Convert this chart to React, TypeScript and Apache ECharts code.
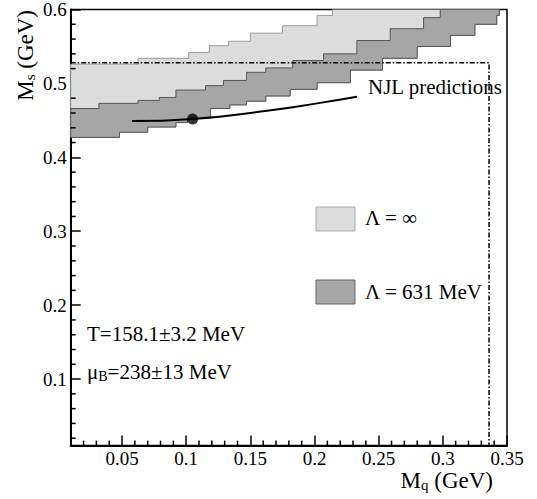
import React, { useEffect, useRef } from 'react';
import * as echarts from 'echarts';

const FONT = 'Liberation Serif';

// axis ranges
const xMin = 0.01;
const xMax = 0.35;
const yMin = 0.01;
const yMax = 0.6;

// Lambda = infinity band: upper staircase edge
const lightTopX = [0.01, 0.0625, 0.102, 0.118, 0.133, 0.15, 0.175, 0.202, 0.214];
const lightTopY = [0.526, 0.534, 0.542, 0.551, 0.557, 0.568, 0.578, 0.592, 0.6];

// Lambda = 631 MeV band: upper and lower staircase edges
const darkTopX = [0.01, 0.032, 0.0625, 0.079, 0.092, 0.115, 0.129, 0.147, 0.162, 0.183, 0.207, 0.233, 0.259, 0.285, 0.298];
const darkTopY = [0.466, 0.473, 0.477, 0.481, 0.491, 0.497, 0.504, 0.515, 0.521, 0.531, 0.54, 0.558, 0.574, 0.589, 0.6];
const darkBottomX = [0.01, 0.048, 0.07, 0.092, 0.101, 0.119, 0.134, 0.147, 0.162, 0.181, 0.202, 0.228, 0.253, 0.28, 0.306, 0.325, 0.342, 0.344];
const darkBottomY = [0.427, 0.434, 0.441, 0.447, 0.453, 0.466, 0.471, 0.476, 0.483, 0.492, 0.501, 0.518, 0.534, 0.55, 0.565, 0.58, 0.592, 0.6];

// NJL predictions curve and fit point
const njlX = [0.0578, 0.105, 0.163, 0.202, 0.233];
const njlY = [0.449, 0.452, 0.463, 0.473, 0.482];
const fitX = [0.105];
const fitY = [0.452];

// dash-dotted boundary
const boundaryX = [0.01, 0.336, 0.336];
const boundaryY = [0.528, 0.528, 0.01];

// minor ticks
const xMinorTicks: number[] = [];
for (let i = 2; i <= 34; i++) if (i % 5 !== 0) xMinorTicks.push(i / 100);
const yMinorTicks: number[] = [];
for (let i = 1; i <= 29; i++) if (i % 5 !== 0) yMinorTicks.push((i * 2) / 100);

function stairs(xs: number[], ys: number[]) {
  const pts: number[][] = [];
  for (let i = 0; i < xs.length; i++) {
    pts.push([xs[i], ys[i]]);
    if (i < xs.length - 1) pts.push([xs[i + 1], ys[i]]);
  }
  return pts;
}

const lightPoly = [...stairs(lightTopX, lightTopY), ...stairs(darkBottomX, darkBottomY).reverse()];
const darkPoly = [...stairs(darkTopX, darkTopY), ...stairs(darkBottomX, darkBottomY).reverse()];

function bandSeries(poly: number[][], fill: string, stroke: string) {
  return {
    type: 'custom',
    clip: true,
    silent: true,
    data: [[xMin, yMin]],
    renderItem: (_p: any, api: any) => ({
      type: 'polygon',
      shape: { points: poly.map((p) => api.coord(p)) },
      style: { fill, stroke, lineWidth: 1 },
    }),
  };
}

function tickSeries(data: number[][], horizontal: boolean) {
  return {
    type: 'custom',
    clip: false,
    silent: true,
    data,
    renderItem: (_p: any, api: any) => {
      const p = api.coord([api.value(0), api.value(1)]);
      return {
        type: 'line',
        shape: horizontal
          ? { x1: p[0], y1: p[1], x2: p[0] + 5, y2: p[1] }
          : { x1: p[0], y1: p[1], x2: p[0], y2: p[1] - 5 },
        style: { stroke: '#000', lineWidth: 1.5 },
      };
    },
  };
}

const rich = {
  m: { fontSize: 23, fontFamily: FONT, fill: '#000', color: '#000', lineHeight: 24 },
  s: { fontSize: 15, fontFamily: FONT, fill: '#000', color: '#000', lineHeight: 10, verticalAlign: 'bottom' },
  t: { fontSize: 21, fontFamily: FONT, fill: '#000', color: '#000', lineHeight: 22 },
  b: { fontSize: 14, fontFamily: FONT, fill: '#000', color: '#000', lineHeight: 9, verticalAlign: 'bottom' },
};

function txt(x: number, y: number, text: string, size = 21) {
  return {
    type: 'text',
    x,
    y,
    style: {
      text,
      fontSize: size,
      fontFamily: FONT,
      fill: '#000',
      align: 'left',
      textAlign: 'left',
      verticalAlign: 'middle',
      textVerticalAlign: 'middle',
    },
  };
}

export default function App() {
  const ref = useRef<HTMLDivElement>(null);
  useEffect(() => {
    if (!ref.current) return;
    const chart = echarts.init(ref.current, null, { renderer: 'svg' });
    const axisLabel = { fontSize: 19, fontFamily: FONT, color: '#000' };
    chart.setOption({
      animation: false,
      backgroundColor: '#fff',
      textStyle: { fontFamily: FONT },
      grid: {
        left: 70.7,
        right: 30,
        top: 9,
        bottom: 53.4,
        show: true,
        borderColor: '#000',
        borderWidth: 1.5,
        backgroundColor: 'transparent',
      },
      xAxis: {
        type: 'value',
        min: xMin,
        max: xMax,
        splitNumber: 7,
        splitLine: { show: false },
        axisLine: { show: true, onZero: false, lineStyle: { color: '#000', width: 2 } },
        axisTick: { show: true, inside: true, length: 10, lineStyle: { color: '#000', width: 1.5 } },
        axisLabel: { ...axisLabel, margin: 3, showMinLabel: false, showMaxLabel: true },
      },
      yAxis: {
        type: 'value',
        min: yMin,
        max: yMax,
        splitNumber: 6,
        splitLine: { show: false },
        axisLine: { show: true, onZero: false, lineStyle: { color: '#000', width: 2 } },
        axisTick: { show: true, inside: true, length: 10, lineStyle: { color: '#000', width: 1.5 } },
        axisLabel: { ...axisLabel, margin: 4, showMinLabel: false, showMaxLabel: true },
      },
      series: [
        bandSeries(lightPoly, '#dcdcdc', '#9a9a9a'),
        bandSeries(darkPoly, '#a6a6a6', '#555'),
        {
          type: 'line',
          data: boundaryX.map((x, i) => [x, boundaryY[i]]),
          showSymbol: false,
          silent: true,
          lineStyle: { color: '#000', width: 1.5, type: [5, 2, 1.5, 2] },
        },
        {
          type: 'line',
          data: njlX.map((x, i) => [x, njlY[i]]),
          smooth: true,
          showSymbol: false,
          silent: true,
          lineStyle: { color: '#000', width: 2 },
        },
        {
          type: 'scatter',
          data: fitX.map((x, i) => [x, fitY[i]]),
          symbol: 'circle',
          symbolSize: 11,
          silent: true,
          itemStyle: { color: '#000' },
        },
        tickSeries(xMinorTicks.map((v) => [v, yMin]), false),
        tickSeries(yMinorTicks.map((v) => [xMin, v]), true),
      ],
      graphic: [
        txt(368, 87, 'NJL predictions', 21),
        { type: 'rect', shape: { x: 316, y: 207, width: 39, height: 24 }, style: { fill: '#dcdcdc', stroke: '#aaa', lineWidth: 1 } },
        txt(365, 218, 'Λ = ∞', 21),
        { type: 'rect', shape: { x: 316, y: 280, width: 39, height: 24 }, style: { fill: '#a6a6a6', stroke: '#666', lineWidth: 1 } },
        txt(365, 292, 'Λ = 631 MeV', 21),
        txt(87, 334, 'T=158.1±3.2 MeV', 21),
        {
          type: 'text',
          x: 87,
          y: 372,
          style: {
            text: '{t|μ}{b|B}{t|=238±13 MeV}',
            rich,
            align: 'left',
            textAlign: 'left',
            verticalAlign: 'middle',
            textVerticalAlign: 'middle',
          },
        },
        {
          type: 'text',
          x: 493,
          y: 480,
          style: {
            text: '{m|M}{s|q}{m| (GeV)}',
            rich,
            align: 'right',
            textAlign: 'right',
            verticalAlign: 'middle',
            textVerticalAlign: 'middle',
          },
        },
        {
          type: 'text',
          x: 25,
          y: 10,
          rotation: Math.PI / 2,
          style: {
            text: '{m|M}{s|s}{m| (GeV)}',
            rich,
            align: 'right',
            textAlign: 'right',
            verticalAlign: 'middle',
            textVerticalAlign: 'middle',
          },
        },
      ],
    });
    return () => chart.dispose();
  }, []);
  return (
    <div
      ref={ref}
      style={{ position: 'fixed', left: 0, top: 0, width: 537, height: 499, background: '#fff' }}
    />
  );
}
